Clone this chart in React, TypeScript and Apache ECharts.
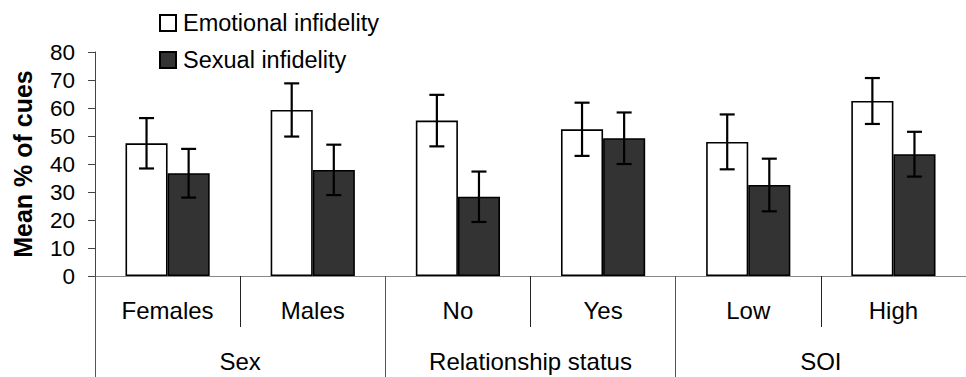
import React, { useEffect, useRef } from "react";
import * as echarts from "echarts";

const categories = ["Females", "Males", "No", "Yes", "Low", "High"];
const groups = ["Sex", "Relationship status", "SOI"];
const emotionalMeans = [47.4, 59.3, 55.5, 52.4, 47.9, 62.5];
const emotionalErr = [9.0, 9.5, 9.2, 9.5, 9.8, 8.2];
const sexualMeans = [36.7, 37.9, 28.3, 49.2, 32.5, 43.5];
const sexualErr = [8.7, 9.0, 9.0, 9.2, 9.4, 8.0];
const yTicks = [0, 10, 20, 30, 40, 50, 60, 70, 80];

const FONT = "'Liberation Sans', Arial, sans-serif";
const BAR_FRAC = 0.29;

function errData(means: number[], errs: number[]) {
  return means.map((m, i) => [i, m - errs[i], m + errs[i]]);
}

function makeErrSeries(name: string, means: number[], errs: number[], side: number) {
  return {
    type: "custom",
    name: name + " error",
    xAxisIndex: 0,
    yAxisIndex: 0,
    z: 10,
    silent: true,
    encode: { x: 0, y: [1, 2] },
    data: errData(means, errs),
    renderItem: (params: any, api: any) => {
      const xi = api.value(0);
      const lo = api.coord([xi, api.value(1)]);
      const hi = api.coord([xi, api.value(2)]);
      const band = api.size([1, 0])[0];
      const cx = lo[0] + side * band * BAR_FRAC / 2;
      const half = 7.5;
      const style = { stroke: "#000", lineWidth: 2.2 };
      return {
        type: "group",
        children: [
          { type: "line", shape: { x1: cx, y1: lo[1], x2: cx, y2: hi[1] }, style },
          { type: "line", shape: { x1: cx - half, y1: hi[1], x2: cx + half, y2: hi[1] }, style },
          { type: "line", shape: { x1: cx - half, y1: lo[1], x2: cx + half, y2: lo[1] }, style },
        ],
      };
    },
  };
}

export default function App() {
  const ref = useRef<HTMLDivElement>(null);
  useEffect(() => {
    if (!ref.current) return;
    const chart = echarts.init(ref.current, null, { renderer: "svg" });
    chart.setOption({
      animation: false,
      backgroundColor: "#fff",
      textStyle: { fontFamily: FONT },
      legend: {
        orient: "vertical",
        left: 159,
        top: 11,
        padding: 0,
        itemWidth: 16,
        itemHeight: 16,
        itemGap: 13,
        icon: "rect",
        data: ["Emotional infidelity", "Sexual infidelity"],
        textStyle: { fontSize: 23.5, fontFamily: FONT, color: "#000", lineHeight: 23, padding: [0, 0, 0, 2] },
      },
      grid: { left: 95, top: 52, bottom: 101, right: -9, containLabel: false },
      xAxis: [
        {
          type: "category",
          data: categories,
          position: "bottom",
          axisLine: { show: true, lineStyle: { color: "#888", width: 1 } },
          axisTick: { show: true, length: 51, interval: 0, lineStyle: { color: "#222", width: 1 } },
          axisLabel: { interval: 0, margin: 22, fontSize: 24, color: "#000", fontFamily: FONT },
        },
        {
          type: "category",
          data: groups,
          position: "bottom",
          offset: 0,
          axisLine: { show: false },
          axisTick: { show: true, length: 110, interval: 0, lineStyle: { color: "#555", width: 1 } },
          axisLabel: { interval: 0, margin: 73, fontSize: 24, color: "#000", fontFamily: FONT },
        },
      ],
      yAxis: {
        type: "value",
        min: yTicks[0],
        max: yTicks[yTicks.length - 1],
        interval: 10,
        name: "Mean % of cues",
        nameLocation: "middle",
        nameRotate: 90,
        nameGap: 60,
        nameTextStyle: { fontSize: 25, fontWeight: "bold", color: "#000", fontFamily: FONT },
        axisLine: { show: true, lineStyle: { color: "#444", width: 1 } },
        axisTick: { show: true, length: 7, lineStyle: { color: "#444" } },
        splitLine: { show: false },
        axisLabel: { margin: 20, fontSize: 22.5, color: "#000", fontFamily: FONT },
      },
      series: [
        {
          type: "bar",
          name: "Emotional infidelity",
          data: emotionalMeans,
          barWidth: "29%",
          barGap: "0%",
          itemStyle: { color: "#fff", borderColor: "#000", borderWidth: 1.6 },
        },
        {
          type: "bar",
          name: "Sexual infidelity",
          data: sexualMeans,
          barWidth: "29%",
          barGap: "0%",
          itemStyle: { color: "#333", borderColor: "#000", borderWidth: 1.6 },
        },
        makeErrSeries("Emotional infidelity", emotionalMeans, emotionalErr, -1),
        makeErrSeries("Sexual infidelity", sexualMeans, sexualErr, 1),
      ],
    });
    return () => chart.dispose();
  }, []);
  return (
    <div
      ref={ref}
      style={{ position: "absolute", left: 0, top: 0, width: 966, height: 377 }}
    />
  );
}
